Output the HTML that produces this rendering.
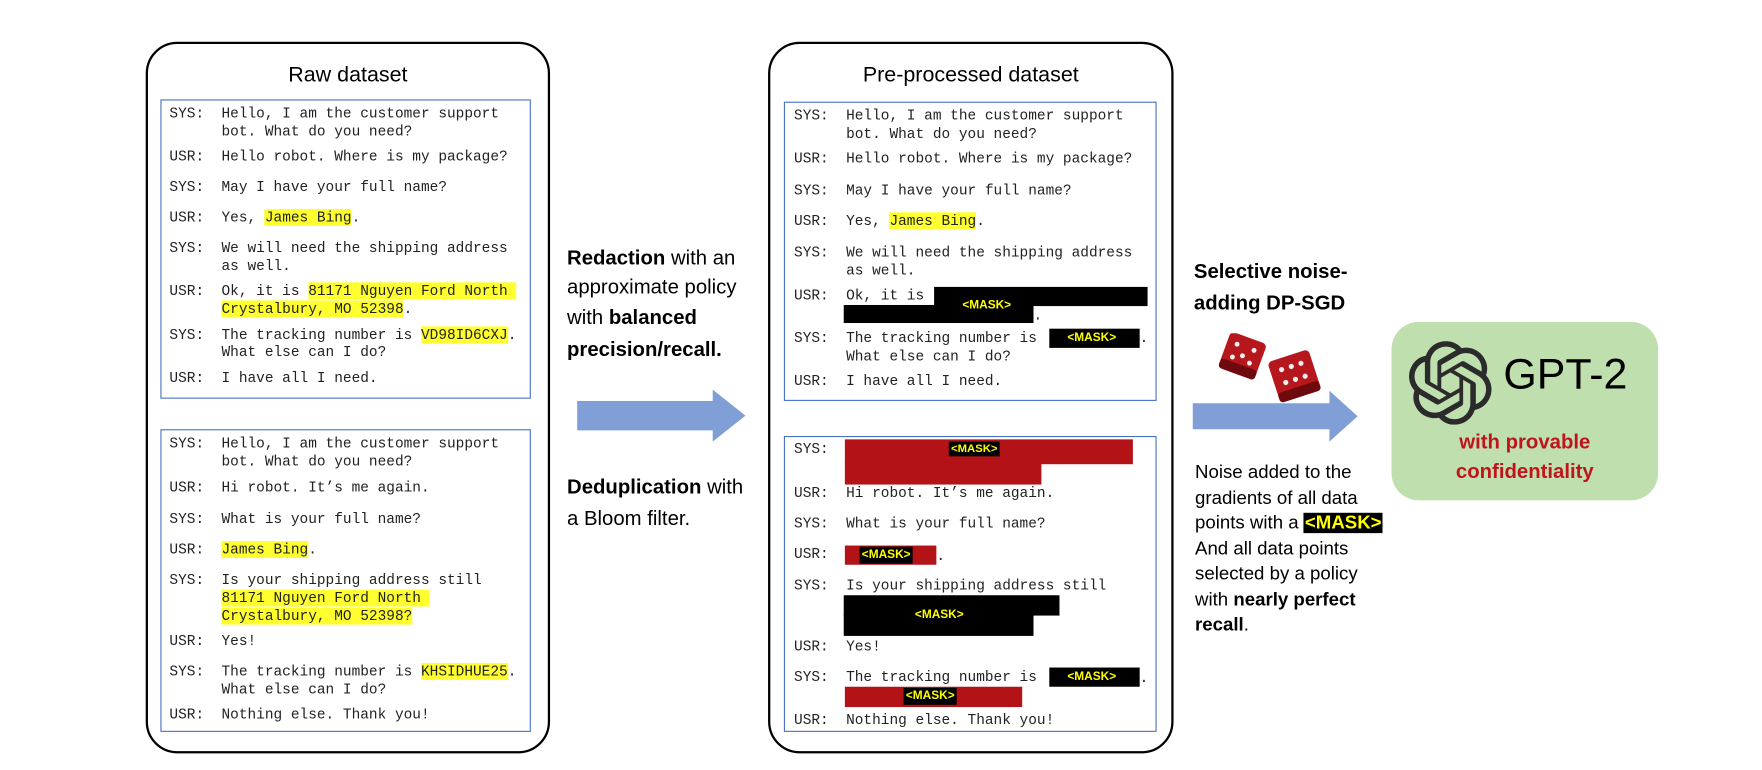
<!DOCTYPE html>
<html><head><meta charset="utf-8">
<style>
html,body{margin:0;padding:0;background:#fff;}
body{width:1762px;height:770px;overflow:hidden;position:relative;}
#w{position:absolute;left:0;top:0;width:1560px;height:682px;transform:scale(1.1295);transform-origin:0 0;}
.abs{position:absolute;}
.outer{position:absolute;border:2px solid #000;border-radius:28px;box-sizing:border-box;}
.inner{position:absolute;border:1.5px solid #4a72c4;box-sizing:border-box;}
.title{position:absolute;font-family:"Liberation Sans",sans-serif;font-size:19px;text-align:center;line-height:24px;}
.l{position:absolute;font-family:"Liberation Mono",monospace;font-size:12.8px;line-height:16px;white-space:pre;color:#222;}
.y{background:#ffff30;}
.blk{position:absolute;background:#000;}
.red{position:absolute;background:#b31217;}
.m{position:absolute;font-family:"Liberation Sans",sans-serif;font-size:10.5px;color:#ffff00;background:#000;line-height:15px;padding:0 2px;font-weight:bold;}
.t{position:absolute;font-family:"Liberation Sans",sans-serif;font-size:20px;line-height:26px;white-space:pre;color:#000;}
b{font-weight:bold;}
</style></head><body><div id="w">

<!-- Left box -->
<div class="outer" style="left:129px;top:37px;width:358px;height:630px;"></div>
<div class="title" style="left:129px;top:55px;width:358px;">Raw dataset</div>
<div class="inner" style="left:142px;top:88px;width:328px;height:265px;"></div>
<div class="inner" style="left:142px;top:380px;width:328px;height:268px;"></div>

<div class="l" style="left:150px;top:93px;">SYS:  Hello, I am the customer support</div>
<div class="l" style="left:150px;top:109px;">      bot. What do you need?</div>
<div class="l" style="left:150px;top:131px;">USR:  Hello robot. Where is my package?</div>
<div class="l" style="left:150px;top:158px;">SYS:  May I have your full name?</div>
<div class="l" style="left:150px;top:185px;">USR:  Yes, <span class="y">James Bing</span>.</div>
<div class="l" style="left:150px;top:212px;">SYS:  We will need the shipping address</div>
<div class="l" style="left:150px;top:228px;">      as well.</div>
<div class="l" style="left:150px;top:250px;">USR:  Ok, it is <span class="y">81171 Nguyen Ford North </span></div>
<div class="l" style="left:150px;top:266px;">      <span class="y">Crystalbury, MO 52398</span>.</div>
<div class="l" style="left:150px;top:289px;">SYS:  The tracking number is <span class="y">VD98ID6CXJ</span>.</div>
<div class="l" style="left:150px;top:304px;">      What else can I do?</div>
<div class="l" style="left:150px;top:327px;">USR:  I have all I need.</div>

<div class="l" style="left:150px;top:385px;">SYS:  Hello, I am the customer support</div>
<div class="l" style="left:150px;top:401px;">      bot. What do you need?</div>
<div class="l" style="left:150px;top:424px;">USR:  Hi robot. It’s me again.</div>
<div class="l" style="left:150px;top:452px;">SYS:  What is your full name?</div>
<div class="l" style="left:150px;top:479px;">USR:  <span class="y">James Bing</span>.</div>
<div class="l" style="left:150px;top:506px;">SYS:  Is your shipping address still</div>
<div class="l" style="left:150px;top:522px;">      <span class="y">81171 Nguyen Ford North </span></div>
<div class="l" style="left:150px;top:538px;">      <span class="y">Crystalbury, MO 52398?</span></div>
<div class="l" style="left:150px;top:560px;">USR:  Yes!</div>
<div class="l" style="left:150px;top:587px;">SYS:  The tracking number is <span class="y">KHSIDHUE25</span>.</div>
<div class="l" style="left:150px;top:603px;">      What else can I do?</div>
<div class="l" style="left:150px;top:625px;">USR:  Nothing else. Thank you!</div>

<!-- Middle text -->
<div class="t" style="left:502px;top:215px;font-size:18px;"><b>Redaction</b> with an</div>
<div class="t" style="left:502px;top:241px;font-size:18px;">approximate policy</div>
<div class="t" style="left:502px;top:268px;font-size:18px;">with <b>balanced</b></div>
<div class="t" style="left:502px;top:296px;font-size:18px;"><b>precision/recall.</b></div>
<div class="t" style="left:502px;top:418px;font-size:18px;"><b>Deduplication</b> with</div>
<div class="t" style="left:502px;top:446px;font-size:18px;">a Bloom filter.</div>

<svg class="abs" style="left:505px;top:340px;" width="160" height="56">
<polygon points="6,15 126,15 126,5 155,28 126,51 126,41 6,41" fill="#7f9fd6"/>
</svg>

<!-- Middle box -->
<div class="outer" style="left:680px;top:37px;width:359px;height:630px;"></div>
<div class="title" style="left:680px;top:55px;width:359px;">Pre-processed dataset</div>
<div class="inner" style="left:694px;top:90px;width:330px;height:265px;"></div>
<div class="inner" style="left:694px;top:386px;width:330px;height:262px;"></div>

<div class="l" style="left:703px;top:95px;">SYS:  Hello, I am the customer support</div>
<div class="l" style="left:703px;top:111px;">      bot. What do you need?</div>
<div class="l" style="left:703px;top:133px;">USR:  Hello robot. Where is my package?</div>
<div class="l" style="left:703px;top:161px;">SYS:  May I have your full name?</div>
<div class="l" style="left:703px;top:188px;">USR:  Yes, <span class="y">James Bing</span>.</div>
<div class="l" style="left:703px;top:216px;">SYS:  We will need the shipping address</div>
<div class="l" style="left:703px;top:232px;">      as well.</div>
<div class="l" style="left:703px;top:254px;">USR:  Ok, it is</div>
<div class="blk" style="left:827px;top:254px;width:189px;height:17px;"></div>
<div class="blk" style="left:747px;top:270px;width:168px;height:16px;"></div>
<div class="l" style="left:915px;top:272px;">.</div>
<div class="m" style="left:850px;top:263px;">&lt;MASK&gt;</div>
<div class="l" style="left:703px;top:292px;">SYS:  The tracking number is</div>
<div class="blk" style="left:929px;top:291px;width:80px;height:17px;"></div>
<div class="m" style="left:943px;top:292px;">&lt;MASK&gt;</div>
<div class="l" style="left:1009px;top:292px;">.</div>
<div class="l" style="left:703px;top:308px;">      What else can I do?</div>
<div class="l" style="left:703px;top:330px;">USR:  I have all I need.</div>

<div class="l" style="left:703px;top:390px;">SYS:</div>
<div class="red" style="left:748px;top:389px;width:255px;height:22px;"></div>
<div class="red" style="left:748px;top:410px;width:174px;height:19px;"></div>
<div class="m" style="left:840px;top:391px;font-size:10px;line-height:13px;">&lt;MASK&gt;</div>
<div class="l" style="left:703px;top:429px;">USR:  Hi robot. It’s me again.</div>
<div class="l" style="left:703px;top:456px;">SYS:  What is your full name?</div>
<div class="l" style="left:703px;top:483px;">USR:</div>
<div class="red" style="left:748px;top:483px;width:81px;height:17px;"></div>
<div class="m" style="left:761px;top:484px;">&lt;MASK&gt;</div>
<div class="l" style="left:829px;top:485px;">.</div>
<div class="l" style="left:703px;top:511px;">SYS:  Is your shipping address still</div>
<div class="blk" style="left:747px;top:527px;width:191px;height:18px;"></div>
<div class="blk" style="left:747px;top:544px;width:168px;height:19px;"></div>
<div class="m" style="left:808px;top:537px;background:none;">&lt;MASK&gt;</div>
<div class="l" style="left:703px;top:565px;">USR:  Yes!</div>
<div class="l" style="left:703px;top:592px;">SYS:  The tracking number is</div>
<div class="blk" style="left:929px;top:591px;width:80px;height:17px;"></div>
<div class="m" style="left:943px;top:592px;">&lt;MASK&gt;</div>
<div class="l" style="left:1009px;top:593px;">.</div>
<div class="red" style="left:748px;top:608px;width:157px;height:18px;"></div>
<div class="m" style="left:800px;top:609px;">&lt;MASK&gt;</div>
<div class="l" style="left:703px;top:630px;">USR:  Nothing else. Thank you!</div>

<!-- Right text -->
<div class="t" style="left:1057px;top:227px;font-size:18px;"><b>Selective noise-</b></div>
<div class="t" style="left:1057px;top:255px;font-size:18px;"><b>adding DP-SGD</b></div>

<svg class="abs" style="left:1078px;top:295px;" width="100" height="65">
<g transform="translate(22,20) rotate(20)">
<rect x="-17" y="-17" width="34" height="34" rx="4" fill="#b5171d"/>
<rect x="-17" y="8" width="34" height="9" rx="3" fill="#6e0a0d"/>
<circle cx="-8" cy="-8" r="2.2" fill="#eee"/><circle cx="0" cy="0" r="2.2" fill="#eee"/><circle cx="8" cy="-8" r="2.2" fill="#eee"/><circle cx="-8" cy="4" r="2.2" fill="#eee"/><circle cx="8" cy="4" r="2.2" fill="#eee"/>
</g>
<g transform="translate(68,38) rotate(-18)">
<rect x="-19" y="-19" width="38" height="38" rx="4" fill="#b5171d"/>
<rect x="-19" y="10" width="38" height="9" rx="3" fill="#6e0a0d"/>
<circle cx="-9" cy="-9" r="2.3" fill="#eee"/><circle cx="0" cy="-9" r="2.3" fill="#eee"/><circle cx="9" cy="-9" r="2.3" fill="#eee"/><circle cx="-9" cy="3" r="2.3" fill="#eee"/><circle cx="0" cy="3" r="2.3" fill="#eee"/><circle cx="9" cy="3" r="2.3" fill="#eee"/>
</g>
</svg>

<svg class="abs" style="left:1050px;top:340px;" width="160" height="56">
<polygon points="6,17 127,17 127,6 152,28.5 127,51 127,40 6,40" fill="#7f9fd6"/>
</svg>

<div class="t" style="left:1058px;top:407px;font-size:16.5px;line-height:22.5px;">Noise added to the
gradients of all data
points with a <span style="background:#000;color:#ffff00;font-weight:bold;padding:0 1px;">&lt;MASK&gt;</span>
And all data points
selected by a policy
with <b>nearly perfect</b>
<b>recall</b>.</div>

<!-- GPT box -->
<div class="abs" style="left:1232px;top:285px;width:236px;height:158px;background:#c0dfae;border-radius:24px;"></div>
<svg class="abs" style="left:1246px;top:302px;" width="76" height="74" viewBox="0 0 24 24">
<path fill="#2b2b2b" d="M22.28 9.82a5.98 5.98 0 0 0-.52-4.91 6.050 6.05 0 0 0-6.51-2.9A6.07 6.07 0 0 0 4.98 4.180a5.98 5.98 0 0 0-4 2.9 6.05 6.05 0 0 0 .74 7.1 5.98 5.98 0 0 0 .51 4.91 6.05 6.05 0 0 0 6.52 2.9A5.98 5.98 0 0 0 13.26 24a6.06 6.06 0 0 0 5.77-4.21 5.99 5.99 0 0 0 4-2.9 6.06 6.06 0 0 0-.75-7.07zm-9.02 12.61a4.48 4.48 0 0 1-2.88-1.040l.14-.08 4.78-2.76a.8.8 0 0 0 .39-.68v-6.74l2.02 1.170a.07.07 0 0 1 .04.05v5.58a4.5 4.5 0 0 1-4.49 4.5zm-9.66-4.13a4.47 4.47 0 0 1-.53-3.010l.14.09 4.78 2.76a.77.77 0 0 0 .78 0l5.84-3.37v2.33a.08.08 0 0 1-.03.06L9.74 19.95a4.5 4.5 0 0 1-6.14-1.65zM2.34 7.9a4.49 4.49 0 0 1 2.37-1.97V11.6a.77.77 0 0 0 .39.68l5.81 3.35-2.02 1.17a.08.08 0 0 1-.07 0l-4.83-2.79A4.5 4.5 0 0 1 2.34 7.87zm16.6 3.86L13.1 8.36 15.12 7.2a.08.08 0 0 1 .07 0l4.83 2.79a4.49 4.49 0 0 1-.68 8.1v-5.68a.79.79 0 0 0-.41-.67zm2.01-3.02l-.14-.09-4.77-2.78a.78.78 0 0 0-.79 0L9.41 9.23V6.9a.07.07 0 0 1 .03-.06l4.83-2.79a4.5 4.5 0 0 1 6.68 4.66zM8.31 12.86l-2.02-1.16a.08.08 0 0 1-.04-.06V6.07a4.5 4.5 0 0 1 7.38-3.45l-.14.08L8.7 5.46a.8.8 0 0 0-.39.68zm1.1-2.37l2.6-1.5 2.61 1.5v3l-2.6 1.5-2.61-1.5z"/>
</svg>
<div class="abs" style="left:1331px;top:309px;font-family:'Liberation Sans',sans-serif;font-size:38px;line-height:46px;color:#000;">GPT-2</div>
<div class="abs" style="left:1232px;top:378px;width:236px;text-align:center;font-family:'Liberation Sans',sans-serif;font-weight:bold;font-size:18px;line-height:26px;color:#c0141c;">with provable<br>confidentiality</div>

</div></body></html>
